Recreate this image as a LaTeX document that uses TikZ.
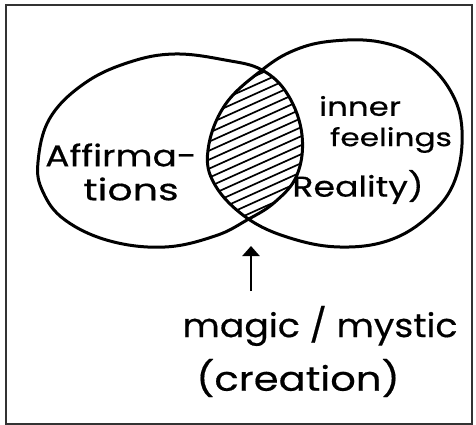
\documentclass[tikz,border=0pt]{standalone}
\usepackage{fontspec}
\setmainfont{Poppins}[FakeBold=0.5]
\usetikzlibrary{arrows.meta}
\newcommand{\handsize}[2]{\fontsize{#1}{#1}\selectfont\addfontfeature{FakeStretch=#2}}
\begin{document}
\begin{tikzpicture}[x=1pt,y=-1pt,
  frame/.style={draw=black!80,line width=1.4pt},
  venn/.style={draw=black,line width=3pt,line join=round},
  hatch/.style={draw=black,line width=1.7pt,line cap=round},
  hand/.style={inner sep=0pt,text=black},
  arrowline/.style={draw=black,line width=2.4pt,-{Triangle[width=17pt,length=10pt]}}]
\useasboundingbox (0,0) rectangle (476,425);
\draw[frame] (6,5) rectangle (472,424);
% circles
\def\leftshape{plot[smooth cycle,tension=0.65] coordinates {(38,162) (50,118) (85,83) (130,62) (175,54) (225,60) (262,70) (288,95) (302,135) (297,175) (275,202) (247,220) (215,236) (165,247) (110,241) (65,220) (43,192)}}
\def\rightshape{plot[smooth cycle,tension=0.65] coordinates {(208,150) (225,105) (262,70) (295,50) (333,41) (380,42) (420,58) (450,90) (462,130) (455,180) (430,215) (390,240) (340,247) (290,238) (247,218) (215,185)}}
\begin{scope}
  \clip \leftshape;
  \clip \rightshape;
  \foreach \k in {0,...,24} {
    \draw[hatch] (195,{40+9*\k}) -- (315,{40+9*\k-54});
  }
\end{scope}
\draw[venn] \leftshape;
\draw[venn] \rightshape;
% texts
\node[hand,font=\handsize{30}{1.2}] (aff) at (121,155) {Affirma-};
\node[hand,font=\handsize{30}{1.32}] (tions) at (131,189) {tions};
\node[hand,font=\handsize{26}{1.25}] (inner) at (360,106) {inner};
\node[hand,font=\handsize{25}{1.25}] (feel) at (391,140) {feelings};
\node[hand,font=\handsize{28.5}{1.22}] (real) at (358,187) {Reality)};
\node[hand,font=\handsize{33}{1.1}] (magic) at (320,326) {magic / mystic};
\node[hand,font=\handsize{34}{1.18}] (crea) at (298,378) {(creation)};
\coordinate (atail) at (251,291);
\coordinate (ahead) at (251,246);
\draw[arrowline] (atail) -- (ahead);
\end{tikzpicture}
\end{document}
